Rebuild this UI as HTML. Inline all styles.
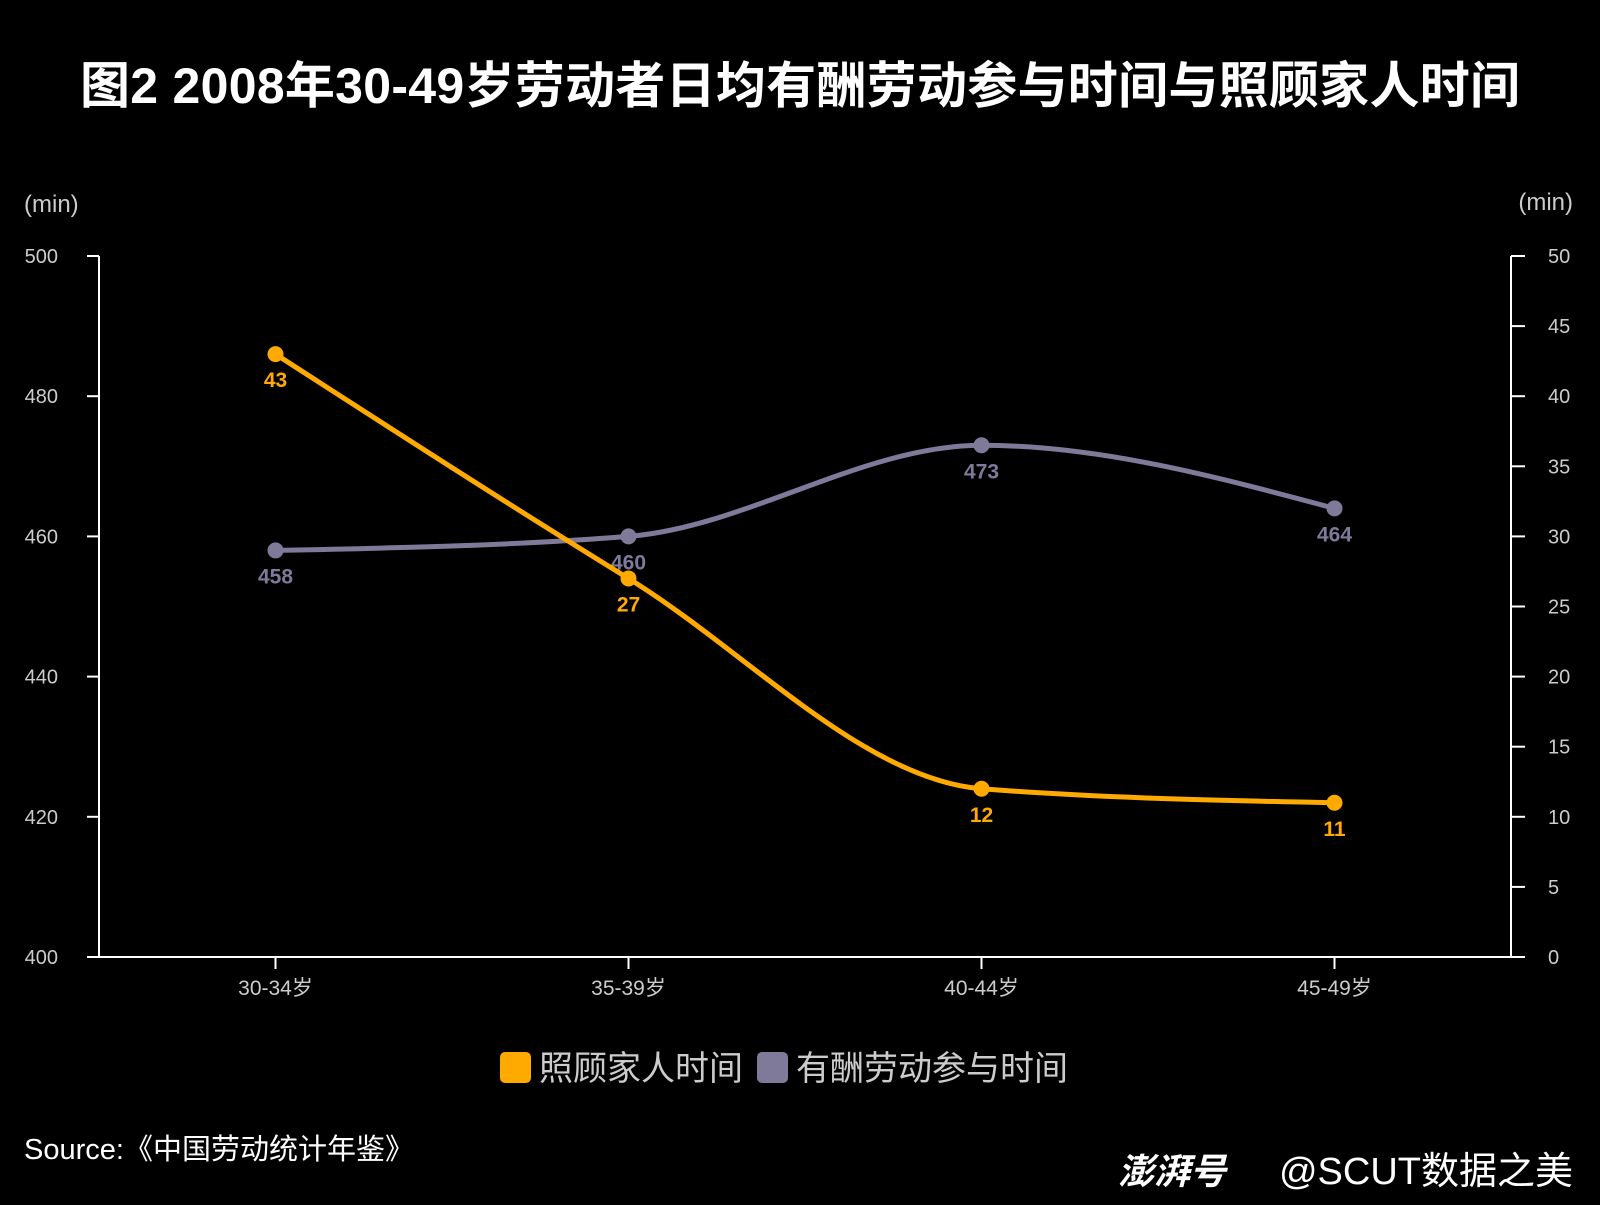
<!DOCTYPE html>
<html><head><meta charset="utf-8">
<style>
body{margin:0;background:#000;width:1600px;height:1200px;overflow:hidden;font-family:"Liberation Sans","Noto Sans CJK SC",sans-serif;}
svg text{font-family:"Liberation Sans","Noto Sans CJK SC",sans-serif;}
</style></head><body>
<svg id="chart" width="1600" height="1200">
<text x="800" y="103" text-anchor="middle" fill="#fff" font-size="50" font-weight="bold" textLength="1440">图2 2008年30-49岁劳动者日均有酬劳动参与时间与照顾家人时间</text>
<text x="24" y="212" fill="#ccc" font-size="24">(min)</text>
<text x="1573" y="210" fill="#ccc" font-size="24" text-anchor="end">(min)</text>
<g id="axes"></g>
<g id="series"></g>
<rect x="500" y="1052" width="31" height="31" rx="5" fill="#ffaa00"/>
<text x="539" y="1080" fill="#ccc" font-size="34">照顾家人时间</text>
<rect x="757" y="1052" width="31" height="31" rx="5" fill="#7f7a9a"/>
<text x="796" y="1080" fill="#ccc" font-size="34">有酬劳动参与时间</text>
<text x="24" y="1159" fill="#fff" font-size="29">Source:《中国劳动统计年鉴》</text>
<text x="1118" y="1184" fill="#fff" font-size="36" font-weight="bold" font-style="italic">澎湃号</text>
<text x="1573" y="1184" fill="#fff" font-size="38" text-anchor="end">@SCUT数据之美</text>
</svg>
<script>
const categories=["30-34岁","35-39岁","40-44岁","45-49岁"];
const workValues=[458,460,473,464];
const careValues=[43,27,12,11];
const leftTicks=[400,420,440,460,480,500];
const rightTicks=[0,5,10,15,20,25,30,35,40,45,50];
const NS="http://www.w3.org/2000/svg";
const X0=99,X1=1511,Y0=957,Y1=256;
const xs=i=>275.5+i*353;
const yL=v=>Y0-(v-400)/100*(Y0-Y1);
const yR=v=>Y0-v/50*(Y0-Y1);
function el(tag,attrs,parent){const e=document.createElementNS(NS,tag);for(const k in attrs)e.setAttribute(k,attrs[k]);parent.appendChild(e);return e;}
const ax=document.getElementById('axes'),sg=document.getElementById('series');
let l=el('line',{x1:X0,y1:Y0,x2:X0,y2:Y1,stroke:'#fff','stroke-width':2},ax);

l=el('line',{x1:X1,y1:Y0,x2:X1,y2:Y1,stroke:'#fff','stroke-width':2},ax);

l=el('line',{x1:87,y1:Y0,x2:1525,y2:Y0,stroke:'#fff','stroke-width':2},ax);

leftTicks.forEach(v=>{
 const t=el('line',{x1:87,y1:yL(v),x2:X0,y2:yL(v),stroke:'#fff','stroke-width':2},ax);
 
 const tx=el('text',{x:58,y:yL(v)+7,fill:'#ccc','font-size':20,'text-anchor':'end'},ax);tx.textContent=v;
 
});
rightTicks.forEach(v=>{
 const t=el('line',{x1:X1,y1:yR(v),x2:1525,y2:yR(v),stroke:'#fff','stroke-width':2},ax);
 
 const tx=el('text',{x:1548,y:yR(v)+7,fill:'#ccc','font-size':20},ax);tx.textContent=v;
 
});
categories.forEach((c,i)=>{
 const t=el('line',{x1:xs(i),y1:Y0,x2:xs(i),y2:Y0+12,stroke:'#fff','stroke-width':2},ax);
 
 const tx=el('text',{x:xs(i),y:995,fill:'#ccc','font-size':21,'text-anchor':'middle'},ax);tx.textContent=c;
 
});
function path(pts){
 const n=pts.length,s=[],m=[];
 for(let i=0;i<n-1;i++)s.push((pts[i+1][1]-pts[i][1])/(pts[i+1][0]-pts[i][0]));
 for(let i=0;i<n;i++){
  if(i===0||i===n-1){m.push(null);continue;}
  const a=s[i-1],b=s[i];
  if(a*b<=0)m.push(0);
  else{const h0=pts[i][0]-pts[i-1][0],h1=pts[i+1][0]-pts[i][0],p=(a*h1+b*h0)/(h0+h1);
   m.push((Math.sign(a)+Math.sign(b))*Math.min(Math.abs(a),Math.abs(b),0.5*Math.abs(p)));}
 }
 m[0]=n>1?(3*s[0]-m[1])/2:0;
 m[n-1]=n>1?(3*s[n-2]-m[n-2])/2:0;
 let d=`M${pts[0][0]},${pts[0][1]}`;
 for(let i=0;i<n-1;i++){
  const dx=(pts[i+1][0]-pts[i][0])/3;
  d+=` C${pts[i][0]+dx},${pts[i][1]+dx*m[i]} ${pts[i+1][0]-dx},${pts[i+1][1]-dx*m[i+1]} ${pts[i+1][0]},${pts[i+1][1]}`;
 }
 return d;
}
function series(vals,yf,color,name){
 const pts=vals.map((v,i)=>[xs(i),yf(v)]);
 const p=el('path',{d:path(pts),fill:'none',stroke:color,'stroke-width':5},sg);
 
 pts.forEach((pt,i)=>{
  const c=el('circle',{cx:pt[0],cy:pt[1],r:8,fill:color},sg);
  
  const t=el('text',{x:pt[0],y:pt[1]+33,fill:color,'font-size':21,'font-weight':'bold','text-anchor':'middle'},sg);
  t.textContent=vals[i];
  
 });
}
series(workValues,yL,'#7f7a9a','work');
series(careValues,yR,'#ffaa00','care');
</script>
</body></html>
